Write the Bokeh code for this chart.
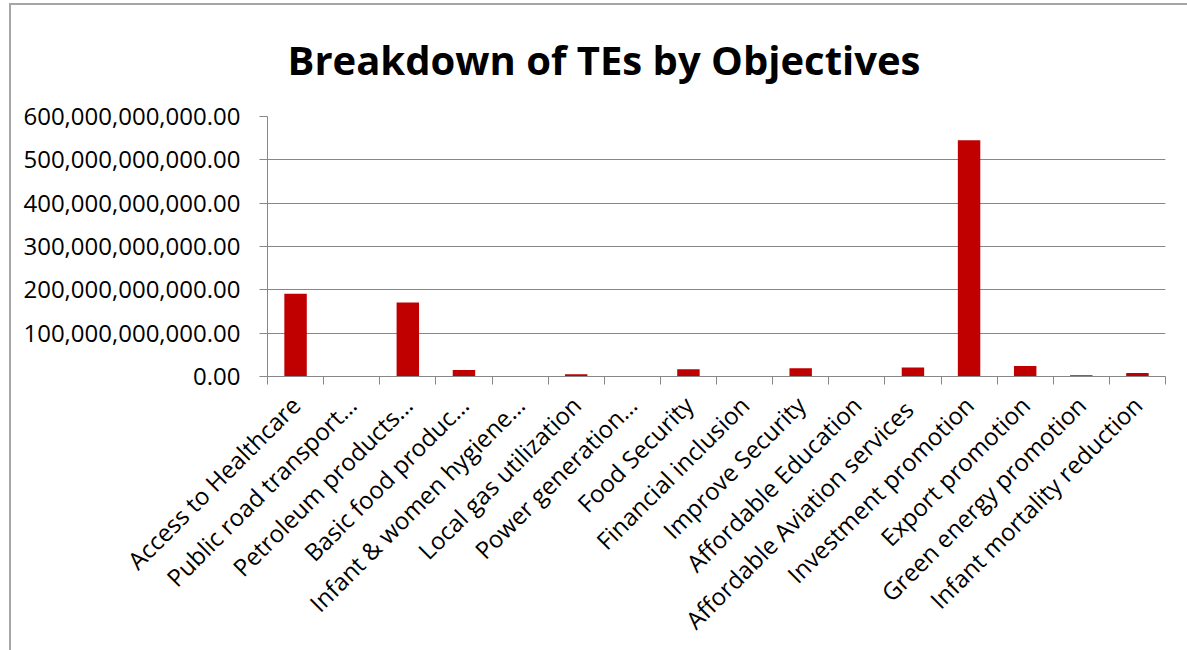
from bokeh.plotting import figure
from bokeh.models import FactorRange, Range1d, LinearAxis, FixedTicker, NumeralTickFormatter
from bokeh.embed import file_html
from bokeh.resources import INLINE

categories = [
    "Access to Healthcare",
    "Public road transport…",
    "Petroleum products…",
    "Basic food produc…",
    "Infant & women hygiene…",
    "Local gas utilization",
    "Power generation…",
    "Food Security",
    "Financial inclusion",
    "Improve Security",
    "Affordable Education",
    "Affordable  Aviation services",
    "Investment promotion",
    "Export promotion",
    "Green energy promotion",
    "Infant mortality reduction",
]
values = [
    191e9, 0, 171e9, 15e9, 0, 5e9, 1e9, 17e9,
    0, 19e9, 0.5e9, 21e9, 545e9, 24e9, 3e9, 8e9,
]
y_ticks = [0, 100e9, 200e9, 300e9, 400e9, 500e9, 600e9]
title_text = "Breakdown of TEs by Objectives"

FONT = "Open Sans"
GREY = "#878787"

p = figure(
    x_range=FactorRange(*categories),
    y_range=Range1d(0, 600e9),
    width=1187, height=650,
    # chart-area border: only its top and left edges fall inside the window
    styles={"box-shadow": "inset 9px 3px 0px 0px #ffffff, inset 11px 5px 0px 0px #a6a6a6"},
    output_backend="svg", toolbar_location=None,
    x_axis_location=None,
    min_border_left=267, min_border_right=22, min_border_top=116, min_border_bottom=273,
)
p.outline_line_color = None
p.background_fill_color = "white"
p.border_fill_alpha = 0.0
p.xgrid.grid_line_color = None

p.vbar(x=categories, top=values, width=0.4, fill_color="#c00000", line_color=None)

# title
p.title.text = title_text
p.title.align = "left"
p.title.offset = 20
p.title.text_font = FONT
p.title.text_font_style = "bold"
p.title.text_font_size = "40px"
p.title.text_color = "black"
p.title.standoff = 59

# y axis
ya = p.yaxis[0]
ya.ticker = FixedTicker(ticks=y_ticks)
ya.formatter = NumeralTickFormatter(format="0,0.00")
ya.axis_line_color = GREY
ya.major_tick_line_color = GREY
ya.major_tick_out = 8
ya.major_tick_in = 0
ya.minor_tick_line_color = None
ya.major_label_text_font = FONT
ya.major_label_text_font_size = "24px"
ya.major_label_text_color = "black"
ya.major_label_standoff = 19
p.ygrid.grid_line_color = GREY
p.ygrid.grid_line_alpha = 1.0

# x axis: labels at the factor centres (synthetic coords i+0.5), tick marks between factors
n = len(categories)
x_axis = LinearAxis(
    ticker=FixedTicker(ticks=[i + 0.5 for i in range(n)], minor_ticks=list(range(n + 1))),
    major_label_overrides={i + 0.5: c for i, c in enumerate(categories)},
    axis_line_color=GREY,
    major_tick_line_color=None,
    major_tick_out=0, major_tick_in=0,
    minor_tick_line_color=GREY,
    minor_tick_out=8, minor_tick_in=0,
    major_label_orientation=0.785398,
    major_label_text_font=FONT,
    major_label_text_font_size="24px",
    major_label_text_color="black",
    major_label_standoff=16,
)
p.add_layout(x_axis, "below")

open("out.html", "w").write(file_html(p, INLINE))
